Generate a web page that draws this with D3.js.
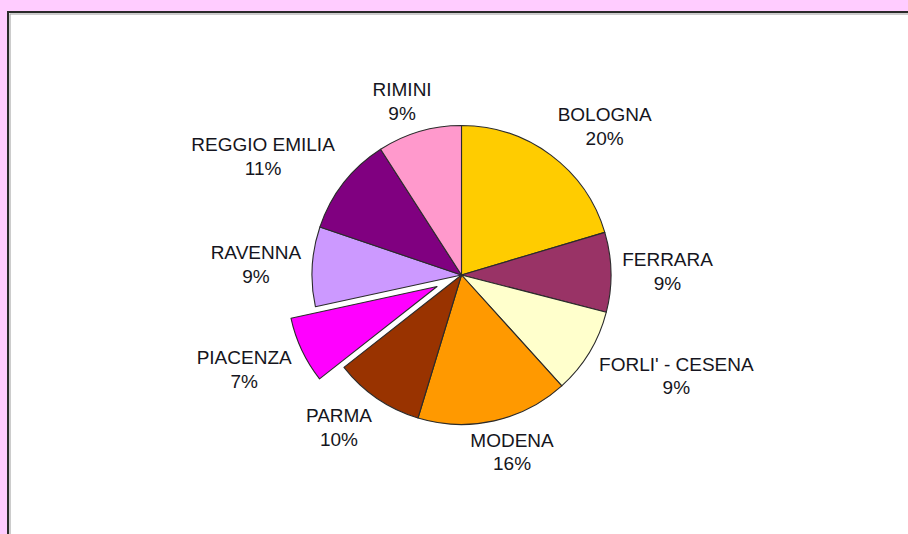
<!DOCTYPE html>
<html>
<head>
<meta charset="utf-8">
<script src="https://cdn.jsdelivr.net/npm/d3@7"></script>
<style>
  html, body { margin: 0; padding: 0; background: #FFCCFF; overflow: hidden; }
  svg { display: block; }
</style>
</head>
<body>
<svg id="chart" width="908" height="534"></svg>
<script>
// Province shares (percent of the regional total)
const provinces = ["BOLOGNA", "FERRARA", "FORLI' - CESENA", "MODENA", "PARMA",
                   "PIACENZA", "RAVENNA", "REGGIO EMILIA", "RIMINI"];
const shares = [20.4, 8.6, 9.3, 16.4, 9.7, 7.2, 8.6, 10.7, 9.1];
const sliceColors = ["#FFCC00", "#993366", "#FFFFCC", "#FF9900", "#993300",
                     "#FF00FF", "#CC99FF", "#800080", "#FF99CC"];
const exploded = ["PIACENZA"];

const data = provinces.map((name, i) => ({ name, value: shares[i], color: sliceColors[i] }));

const svg = d3.select("#chart");
const W = 908, H = 534;

// chart panel
svg.append("rect").attr("x", 0).attr("y", 0).attr("width", W).attr("height", H).attr("fill", "#FFCCFF");
svg.append("rect")
  .attr("x", 8).attr("y", 12).attr("width", 1200).attr("height", 1200)
  .attr("fill", "#FFFFFF").attr("stroke", "#2a2a2a").attr("stroke-width", 2);
svg.append("rect")
  .attr("x", 10).attr("y", 14).attr("width", 1200).attr("height", 1200)
  .attr("fill", "none").attr("stroke", "#9a9a9a").attr("stroke-width", 1);

const cx = 461.5, cy = 275, r = 149.5;
const explodeDist = 27;
const total = d3.sum(shares);

const pie = d3.pie().value(d => d.value).sort(null);
const arc = d3.arc().innerRadius(0).outerRadius(r);
const arcs = pie(data);

const g = svg.append("g").attr("transform", `translate(${cx},${cy})`);

function shift(d) {
  if (!exploded.includes(d.data.name)) return [0, 0];
  const a = (d.startAngle + d.endAngle) / 2;
  return [Math.sin(a) * explodeDist, -Math.cos(a) * explodeDist];
}

g.selectAll("path.slice")
  .data(arcs)
  .join("path")
  .attr("class", "slice")
  .attr("d", arc)
  .attr("transform", d => `translate(${shift(d)})`)
  .attr("fill", d => d.data.color)
  .attr("stroke", "#2b2b2b")
  .attr("stroke-width", 1.1)
  .attr("stroke-linejoin", "round");

// data labels: name + rounded percentage, placed just outside the rim
const fontSize = 19, lineGap = 23.5, boxH = 40, labelGap = 11;
const clamp = v => Math.max(-1, Math.min(1, v));

const labels = svg.append("g")
  .attr("font-family", "'Liberation Sans', Arial, sans-serif")
  .attr("font-size", fontSize)
  .attr("fill", "#151520")
  .attr("text-anchor", "middle");

arcs.forEach(d => {
  const a = (d.startAngle + d.endAngle) / 2;
  const [sx, sy] = shift(d);
  const t = labels.append("text");
  t.append("tspan").attr("x", 0).attr("dy", 0).text(d.data.name);
  t.append("tspan").attr("x", 0).attr("dy", lineGap)
    .text(Math.round(d.data.value / total * 100) + "%");
  const w = t.node().getBBox().width;
  const rr = r + labelGap;
  const px = cx + sx + Math.sin(a) * rr;
  const py = cy + sy - Math.cos(a) * rr;
  const fx = clamp(Math.sin(a) * 1.7), fy = clamp(-Math.cos(a) * 1.7);
  const bx = px + fx * w / 2;
  const by = py + fy * boxH / 2;      // box centre
  const top = by - boxH / 2;
  t.attr("transform", `translate(${bx},${top + 15})`);
});
</script>
</body>
</html>
